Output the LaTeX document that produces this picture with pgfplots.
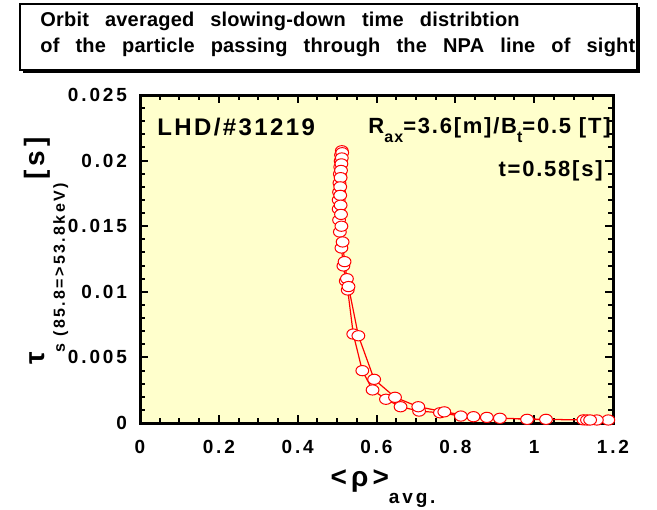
\documentclass[border=0pt]{standalone}
\usepackage{fontspec}
\setmainfont{Liberation Sans}[LetterSpace=15]
\newfontfamily\titlefont{Liberation Sans}[LetterSpace=1, WordSpace=2.8]
\newfontfamily\annfont{Liberation Sans}[LetterSpace=8]
\newfontfamily\lhdfont{Liberation Sans}[LetterSpace=10]
\usepackage{pgfplots}
\pgfplotsset{compat=1.18}
\definecolor{bgyellow}{RGB}{255,255,204}
\newcommand{\fs}[1]{\fontsize{#1}{#1}\selectfont}

\begin{document}
\begin{tikzpicture}
\begin{axis}[
  at={(0,0)}, anchor=south west,
  scale only axis, width=236.5pt, height=164pt,
  xmin=0, xmax=1.2, ymin=0, ymax=0.025,
  xtick={0,0.2,0.4,0.6,0.8,1,1.2},
  xticklabels={0,0.2,0.4,0.6,0.8,1,1.2},
  ytick={0,0.005,0.01,0.015,0.02,0.025},
  yticklabels={0,0.005,0.01,0.015,0.02,0.025},
  scaled y ticks=false,
  minor x tick num=3, minor y tick num=4,
  tick align=inside,
  major tick length=4pt, minor tick length=2.5pt,
  every tick/.style={black, line width=1pt},
  axis line style={line width=1.5pt},
  axis background/.style={fill=bgyellow},
  /pgf/number format/assume math mode=true,
  ticklabel style={font=\bfseries\fs{9.5}},
  xticklabel style={yshift=-5pt},
  yticklabel style={xshift=-3pt},
  clip=false,
]
\addplot[red, line width=0.6pt, mark=*, mark size=3.2pt,
  mark options={fill=white, draw=red, line width=0.5pt, yscale=0.8}]
coordinates {
(1.188,0.00023) (1.159,0.00023) (1.125,0.00024) (0.982,0.00028)
(0.880,0.00043) (0.814,0.00053) (0.761,0.00078) (0.708,0.00091)
(0.661,0.00124) (0.624,0.00181) (0.590,0.00252) (0.564,0.00399)
(0.541,0.00678) (0.527,0.01014) (0.522,0.01082) (0.516,0.01197)
(0.511,0.01334) (0.507,0.01456) (0.505,0.01547) (0.504,0.01631)
(0.504,0.01700) (0.505,0.01760) (0.506,0.01829) (0.507,0.01898)
(0.508,0.01951) (0.509,0.01997) (0.510,0.02043) (0.512,0.02075)
(0.513,0.02060) (0.512,0.02020) (0.511,0.01975) (0.510,0.01925)
(0.509,0.01870) (0.508,0.01800) (0.508,0.01735) (0.509,0.01660)
(0.510,0.01590) (0.511,0.01500) (0.514,0.01380) (0.519,0.01230)
(0.525,0.01100) (0.529,0.01040) (0.554,0.00665) (0.594,0.00333)
(0.647,0.00196) (0.706,0.00124) (0.772,0.00085) (0.846,0.00048)
(0.913,0.00036) (1.030,0.00028) (1.134,0.00023) (1.142,0.00023)
};
\end{axis}
% annotations, placed in pixel units of the reference
\begin{scope}[x=0.5pt, y=-0.5pt, shift={(-70pt,211.5pt)}, font=\bfseries]
  \node[anchor=west, inner sep=0] at (157,127) {\lhdfont\bfseries\fs{12}LHD/\#31219};
  \node[anchor=base west, inner sep=0] at (368,134)
    {\annfont\bfseries\fs{11}R\raisebox{-4.5pt}{\fs{8}ax}=3.6[m]/B\raisebox{-4.5pt}{\fs{8}t}=0.5 [T]};
  \node[anchor=east, inner sep=0] at (603,171) {\annfont\bfseries\fs{11}t=0.58[s]};
  % y label
  \node[rotate=90, anchor=base, inner sep=0] at (45,251)
    {{\fs{14}τ}\raisebox{-10pt}{\fs{8}s (85.8=>53.8keV)}\,{\fs{14}[s]}};
  % x label
  \node[anchor=base, inner sep=0] at (383,486)
    {{\fs{14}<ρ>}\raisebox{-8.5pt}{\fs{9.5}avg.}};
  % title box
  \fill[black] (23,7) rectangle (640,73);
  \draw[fill=white, line width=0.6pt] (20,4) rectangle (637,70);
  \begin{scope}
    \clip (20,4) rectangle (636,70);
    \node[anchor=west, inner sep=0] at (40,21) {\titlefont\bfseries\fs{10}Orbit averaged slowing-down time distribtion};
    \node[anchor=west, inner sep=0] at (40,47) {\titlefont\bfseries\fs{10}of the particle passing through the NPA line of sight};
  \end{scope}
  \pgfresetboundingbox
  \path[use as bounding box] (0,0) rectangle (657,509);
\end{scope}
\end{tikzpicture}
\end{document}
